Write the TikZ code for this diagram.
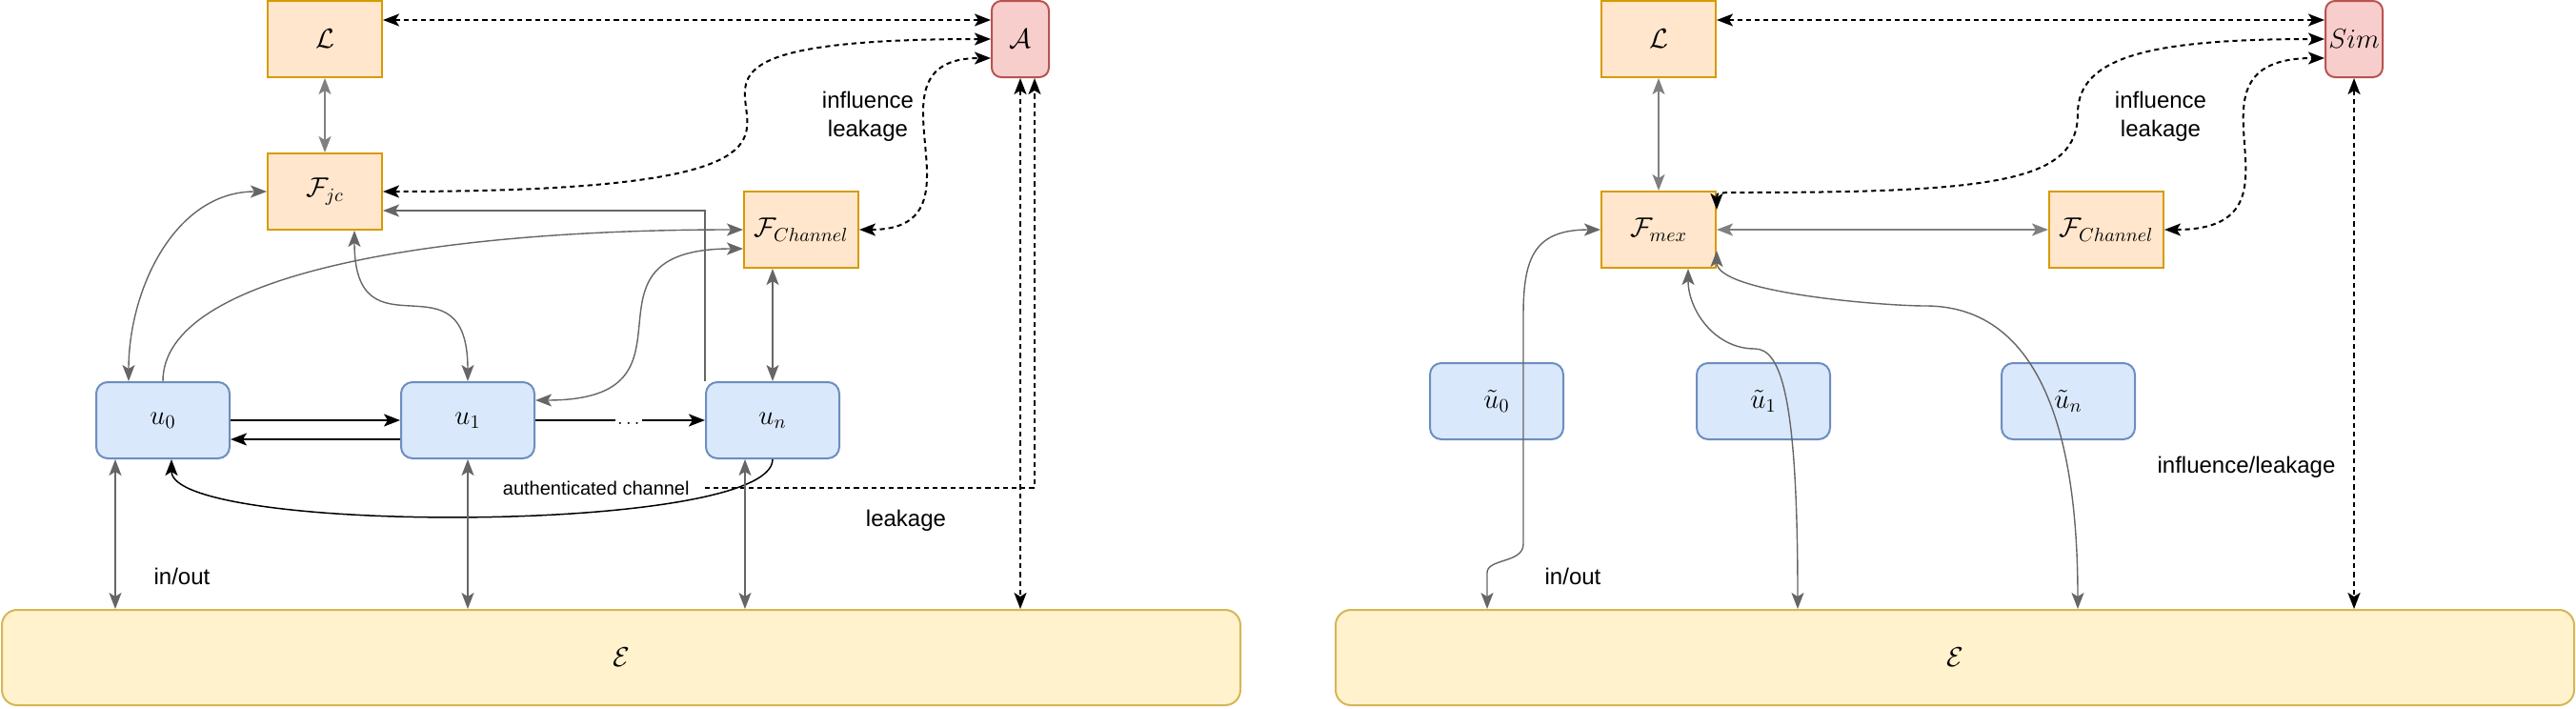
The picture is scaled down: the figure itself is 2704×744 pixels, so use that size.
\documentclass[tikz,border=0pt]{standalone}
\usepackage{amsmath}
\usepackage{amssymb}
\usepackage[no-math]{fontspec}
\setmainfont{Liberation Sans}
\usepackage{tikz}
\usepackage{xcolor}
\usetikzlibrary{arrows.meta,calc}
\definecolor{funcfill}{HTML}{FFE6CC}
\definecolor{funcdraw}{HTML}{D79B00}
\definecolor{userfill}{HTML}{DAE8FC}
\definecolor{userdraw}{HTML}{6C8EBF}
\definecolor{advfill}{HTML}{F8CECC}
\definecolor{advdraw}{HTML}{B85450}
\definecolor{envfill}{HTML}{FFF2CC}
\definecolor{envdraw}{HTML}{D6B656}
\definecolor{linedark}{HTML}{666666}
\definecolor{linelight}{HTML}{808080}
\tikzset{
    func-box/.style = {draw=funcdraw, fill=funcfill, line width=1pt, rectangle, minimum width=60pt, minimum height=40pt, inner sep=1pt, font=\fontsize{14.4}{17}\selectfont},
    adv-box/.style = {draw=advdraw, fill=advfill, line width=1pt, rectangle, rounded corners=5pt, minimum width=30pt, minimum height=40pt, inner sep=1pt, font=\fontsize{14.4}{17}\selectfont},
    user-box/.style = {draw=userdraw, fill=userfill, line width=1pt, rectangle, rounded corners=6pt, minimum width=70pt, minimum height=40pt, inner sep=1pt, font=\fontsize{14.4}{17}\selectfont},
    env-box/.style = {draw=envdraw, fill=envfill, line width=1pt, rectangle, rounded corners=8pt, minimum width=650pt, minimum height=50pt, font=\fontsize{14.4}{17}\selectfont},
    label-text/.style = {font=\fontsize{12}{15}\selectfont, inner sep=0pt},
    small-text/.style = {font=\fontsize{10}{12}\selectfont, inner sep=0pt},
    dark-link/.style = {draw=linedark, line width=0.7pt},
    light-link/.style = {draw=linelight, line width=0.7pt},
    msg-arrow/.style = {draw=black, line width=1pt},
    back-arrow/.style = {draw=black, line width=0.75pt},
    leak-line/.style = {draw=black, line width=1pt, dash pattern=on 2.6pt off 2pt},
}

\begin{document}
\begin{tikzpicture}[x=0.5pt, y=-0.5pt, >={Stealth[length=8.5pt, width=6.5pt, inset=2pt]}]
\useasboundingbox (0,0) rectangle (2704,744);

% real world
\node[func-box] (L1) at (341,41) {$\mathcal{L}$};
\node[adv-box] (A1) at (1071,41) {$\mathcal{A}$};
\node[func-box] (Fjc) at (341,201) {$\mathcal{F}_{jc}$};
\node[func-box] (Fch1) at (841,241) {$\mathcal{F}_{Channel}$};
\node[user-box] (u0) at (171,441) {$u_0$};
\node[user-box] (u1) at (491,441) {$u_1$};
\node[user-box] (un) at (811,441) {$u_n$};
\node[env-box] (E1) at (652,690) {$\mathcal{E}$};

\node[label-text, align=center] (infl1) at (911,122) {influence\\leakage};
\node[label-text] (leak1) at (951,546) {leakage};
\node[label-text] (io1) at (191,605) {in/out};

\draw[leak-line, <->] ($(L1.east)+(0,-20)$) -- ($(A1.west)+(0,-20)$);
\draw[leak-line, <->] (Fjc.east) .. controls +(724,0) and +(-556,0) .. (A1.west);
\draw[leak-line, <->] (Fch1.east) to[out=0, in=180, looseness=1.6] ($(A1.west)+(0,20)$);

\draw[light-link, <->] (L1.south) -- (Fjc.north);
\draw[dark-link, <->] (Fjc.west) to[out=180, in=90] ($(u0.north)+(-36,0)$);
\draw[dark-link, ->] (u0.north) .. controls +(0,-111) and +(-331,0) .. (Fch1.west);
\draw[dark-link, <->] ($(Fjc.south)+(31,0)$) to[out=-90, in=90, looseness=1.8] (u1.north);
\draw[dark-link, <->] ($(Fch1.west)+(0,20)$) to[out=180, in=0, looseness=1.8] ($(u1.east)+(0,-21)$);
\draw[dark-link, <->] ($(Fch1.south)+(-30,0)$) -- (un.north);
\draw[dark-link, ->] (un.north west) |- ($(Fjc.east)+(0,20)$);

\draw[msg-arrow, ->] (u0.east) -- (u1.west);
\draw[msg-arrow, ->] ($(u1.west)+(0,20)$) -- ($(u0.east)+(0,20)$);
\draw[msg-arrow, ->] (u1.east) -- node[pos=0.55, fill=white, inner xsep=1pt, inner ysep=1pt, text height=0.9ex, text depth=0pt] {$\ldots$} (un.west);
\draw[back-arrow, ->] (un.south) .. controls +(0,79) and +(0,79) .. ($(u0.south)+(9,0)$);

\coordinate (ac) at ($(un.south west)+(0,30)$);
\node[small-text, anchor=east] (actext) at ($(ac)+(-16,0)$) {authenticated channel};
\draw[leak-line, ->] (ac) -| ($(A1.south)+(15,0)$);
\draw[leak-line, <->] (A1.south) -- (A1.south |- E1.north);

\coordinate (io0) at ($(u0.south)+(-50,0)$);
\coordinate (ion) at ($(un.south)+(-29,0)$);
\draw[dark-link, <->] (io0) -- (io0 |- E1.north);
\draw[dark-link, <->] (u1.south) -- (u1.south |- E1.north);
\draw[dark-link, <->] (ion) -- (ion |- E1.north);

% ideal world
\node[func-box] (L2) at (1741,41) {$\mathcal{L}$};
\node[adv-box] (Sim) at (2471,41) {$Sim$};
\node[func-box] (Fmex) at (1741,241) {$\mathcal{F}_{mex}$};
\node[func-box] (Fch2) at (2211,241) {$\mathcal{F}_{Channel}$};
\node[user-box] (v0) at (1571,421) {$\tilde{u}_0$};
\node[user-box] (v1) at (1851,421) {$\tilde{u}_1$};
\node[user-box] (vn) at (2171,421) {$\tilde{u}_n$};
\node[env-box] (E2) at (2052,690) {$\mathcal{E}$};

\node[label-text, align=center] (infl2) at (2268,122) {influence\\leakage};
\node[label-text] (io2) at (1651,605) {in/out};
\node[label-text] (infl3) at (2358,490) {influence/leakage};

\draw[leak-line, <->] ($(L2.east)+(0,-20)$) -- ($(Sim.west)+(0,-20)$);
\draw[leak-line, <->] ($(Fmex.north east)+(0,20)$) .. controls +(0,-18) .. ($(Fmex.north east)+(30,2)$) .. controls +(269,0) and +(0,70) .. ($(Fmex.north east)+(379,-81)$) .. controls +(0,-60) and +(-181,0) .. (Sim.west);
\draw[leak-line, <->] (Fch2.east) to[out=0, in=180, looseness=1.75] ($(Sim.west)+(0,20)$);

\draw[light-link, <->] (L2.south) -- (Fmex.north);
\draw[light-link, <->, line width=1pt] (Fmex.east) -- (Fch2.west);

\coordinate (io5) at ($(E2.north west)+(160,0)$);
\coordinate (io6) at ($(E2.north west)+(486,0)$);
\coordinate (io7) at ($(E2.north west)+(780,0)$);
\draw[dark-link, <->] (Fmex.west) .. controls +(-70,0) and +(0,-60) .. ++(-81,90) -- ++(0,240) .. controls +(0,20) and +(0,-15) .. ++(-38,30) -- (io5);
\draw[dark-link, <->] ($(Fmex.south)+(31,0)$) to[out=-90, in=180] ++(70,84) .. controls +(28,0) and +(0,-220) .. (io6);
\draw[dark-link, <->] ($(Fmex.south east)+(0,-19)$) to[out=-90, in=180, looseness=0.5] ++(219,58) to[out=0, in=90] (io7);
\draw[leak-line, <->] (Sim.south) -- (Sim.south |- E2.north);
\end{tikzpicture}
\end{document}
